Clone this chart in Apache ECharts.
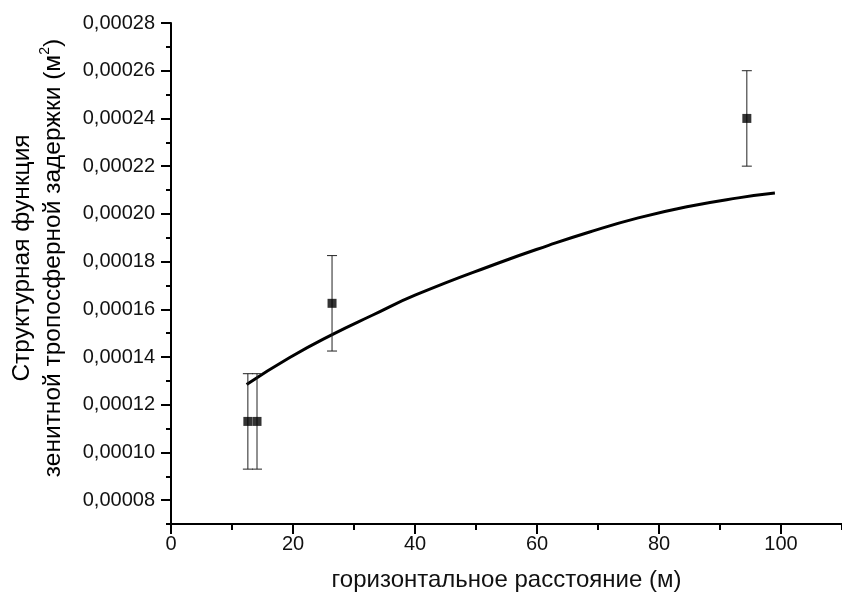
<!DOCTYPE html>
<html>
<head>
<meta charset="utf-8">
<script src="https://cdn.jsdelivr.net/npm/echarts@6/dist/echarts.min.js"></script>
<style>
  html, body { margin: 0; padding: 0; background: #fff; }
  #chart { width: 842px; height: 600px; }
</style>
</head>
<body>
<div id="chart"></div>
<script>
// Measured points: horizontal distance (m), structure function (m^2), its error
const distance = [12.6, 14.1, 26.4, 94.4];
const structFn = [0.000113, 0.000113, 0.0001625, 0.00024];
const structErr = [0.00002, 0.00002, 0.00002, 0.00002];

// Fitted curve
const fitDistance = [12.4, 19.4, 26.5, 33.0, 40.1, 53.8, 61.9, 68.5, 76.6, 84.8, 93.0, 99.0];
const fitValue = [0.0001285, 0.0001397, 0.0001495, 0.0001575, 0.000166, 0.0001795, 0.0001868, 0.0001923, 0.0001983, 0.0002031, 0.0002067, 0.0002087];

// Major tick positions with labels
const xTicks = [0, 20, 40, 60, 80, 100];
const yTicks = [0.00008, 0.0001, 0.00012, 0.00014, 0.00016, 0.00018, 0.0002, 0.00022, 0.00024, 0.00026, 0.00028];

const FONT = 'Liberation Sans, Arial, sans-serif';
const INK = '#111';

const chart = echarts.init(document.getElementById('chart'), null, { renderer: 'canvas' });

const fmtY = v => v.toFixed(5).replace('.', ',');

const points = distance.map((d, i) => [d, structFn[i]]);
const bars = distance.map((d, i) => [d, structFn[i] - structErr[i], structFn[i] + structErr[i]]);
const fit = fitDistance.map((d, i) => [d, fitValue[i]]);

const axisBase = {
  type: 'value',
  splitLine: { show: false },
  axisLine: { show: false },
  axisLabel: { show: false },
  axisTick: { show: false }
};

chart.setOption({
  animation: false,
  backgroundColor: '#fff',
  grid: { left: 171, top: 23, width: 673, height: 501, containLabel: false },
  xAxis: [
    {
      // axis line and minor ticks every 10 m
      type: 'value', min: 0, max: 110, interval: 10,
      position: 'bottom',
      splitLine: { show: false },
      axisLine: { show: true, lineStyle: { color: '#000', width: 2 } },
      axisTick: { show: true, inside: false, length: 6, lineStyle: { color: '#000', width: 2 } },
      axisLabel: {
        show: true, customValues: xTicks, margin: 10,
        fontFamily: FONT, fontSize: 20, color: INK
      },
      name: 'горизонтальное расстояние (м)',
      nameLocation: 'middle', nameGap: 44,
      nameTextStyle: { fontFamily: FONT, fontSize: 24, color: INK }
    },
    Object.assign({}, axisBase, {
      // major ticks every 20 m
      min: 0, max: 110, position: 'bottom',
      axisTick: { show: true, customValues: xTicks, length: 10, lineStyle: { color: '#000', width: 2 } }
    })
  ],
  yAxis: [
    {
      // axis line and minor ticks
      type: 'value', min: 0.00007, max: 0.00028, interval: 0.00001,
      position: 'left',
      splitLine: { show: false },
      axisLine: { show: true, lineStyle: { color: '#000', width: 2 } },
      axisTick: { show: true, inside: false, length: 5, lineStyle: { color: '#000', width: 2 } },
      axisLabel: {
        show: true, customValues: yTicks, margin: 16,
        formatter: fmtY, fontFamily: FONT, fontSize: 20, color: INK
      }
    },
    Object.assign({}, axisBase, {
      // major ticks
      min: 0.00007, max: 0.00028, position: 'left',
      axisTick: { show: true, customValues: yTicks, length: 10, lineStyle: { color: '#000', width: 2 } }
    })
  ],
  graphic: [
    {
      type: 'text',
      x: 38, y: 258,
      rotation: Math.PI / 2,
      style: {
        text: '{a|Структурная функция}\n{a|зенитной тропосферной задержки (м}{s|2}{a|)}',
        align: 'center', verticalAlign: 'middle',
        rich: {
          a: { fontFamily: FONT, fontSize: 24.5, color: INK, lineHeight: 31 },
          s: { fontFamily: FONT, fontSize: 14, color: INK, lineHeight: 31, verticalAlign: 'top', padding: [0, 0, 13, 0] }
        }
      }
    }
  ],
  series: [
    {
      type: 'line', data: fit, smooth: 0.5, symbol: 'none',
      xAxisIndex: 0, yAxisIndex: 0,
      lineStyle: { color: '#000', width: 3 }, z: 2
    },
    {
      type: 'custom', data: bars, xAxisIndex: 0, yAxisIndex: 0, z: 3,
      renderItem: function (params, api) {
        const x = api.value(0);
        const lo = api.coord([x, api.value(1)]);
        const hi = api.coord([x, api.value(2)]);
        const hw = 5;
        const st = { stroke: '#222', lineWidth: 1 };
        return {
          type: 'group',
          children: [
            { type: 'line', shape: { x1: lo[0], y1: lo[1], x2: hi[0], y2: hi[1] }, style: st },
            { type: 'line', shape: { x1: lo[0] - hw, y1: lo[1], x2: lo[0] + hw, y2: lo[1] }, style: st },
            { type: 'line', shape: { x1: hi[0] - hw, y1: hi[1], x2: hi[0] + hw, y2: hi[1] }, style: st }
          ]
        };
      }
    },
    {
      type: 'scatter', data: points, xAxisIndex: 0, yAxisIndex: 0,
      symbol: 'rect', symbolSize: 9, itemStyle: { color: '#000' }, z: 4
    }
  ]
});
</script>
</body>
</html>
